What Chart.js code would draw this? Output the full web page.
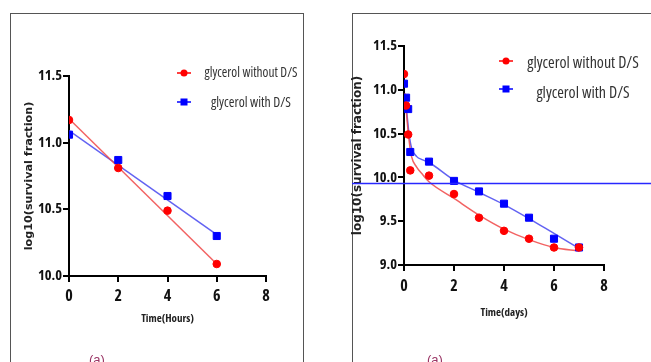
<!DOCTYPE html>
<html>
<head>
<meta charset="utf-8">
<script src="https://cdn.jsdelivr.net/npm/chart.js@4.4.1/dist/chart.umd.min.js"></script>
<style>
  body { margin: 0; background: #fff; width: 651px; height: 362px; overflow: hidden; position: relative; font-family: "Liberation Sans", sans-serif; }
  .panel { position: absolute; border: 1px solid #555; top: 13px; height: 400px; }
  #panelA { left: 10px; width: 292px; }
  #panelB { left: 352px; width: 400px; }
  canvas { position: absolute; top: 0; }
  #chartA { left: 0; }
  #chartB { left: 325px; }
  .tag { position: absolute; top: 352px; font-size: 13px; color: #9a3565; }
</style>
</head>
<body>
<div class="panel" id="panelA"></div>
<div class="panel" id="panelB"></div>
<canvas id="chartA" width="325" height="362"></canvas>
<canvas id="chartB" width="326" height="362"></canvas>
<div class="tag" style="left:89px">(a)</div>
<div class="tag" style="left:427px">(a)</div>
<script>
// panel 1: hours
const hoursX = [0, 2, 4, 6];
const hoursWithout = [11.17, 10.81, 10.49, 10.09];
const hoursWith = [11.06, 10.87, 10.60, 10.30];
const hoursFitX = [0, 6];
const hoursFitWithout = [11.18, 10.09];
const hoursFitWith = [11.09, 10.31];

// panel 2: days
const daysX = [0, 0.083, 0.167, 0.25, 1, 2, 3, 4, 5, 6, 7];
const daysWithout = [11.18, 10.82, 10.49, 10.08, 10.02, 9.81, 9.54, 9.39, 9.30, 9.20, 9.20];
const daysWith = [11.07, 10.91, 10.78, 10.29, 10.18, 9.96, 9.84, 9.70, 9.54, 9.30, 9.20];
const daysFitX = [0.04, 0.1, 0.2, 0.3, 0.5, 0.75, 1, 2, 3, 4, 5, 6, 7];
const daysFitWithout = [10.96, 10.73, 10.43, 10.24, 10.12, 10.03, 9.95, 9.76, 9.57, 9.41, 9.29, 9.20, 9.16];
const daysFitWith = [10.92, 10.77, 10.50, 10.34, 10.24, 10.20, 10.17, 9.97, 9.83, 9.69, 9.53, 9.36, 9.19];
const refLineValue = 9.93;

const labelWithout = "glycerol without D/S";
const labelWith = "glycerol with D/S";
const yTitle = "log10(survival fraction)";

const RED = "#ff0000", BLUE = "#0000ff";
const RED_LINE = "rgba(240,70,70,0.85)", BLUE_LINE = "rgba(70,70,240,0.85)";

// find the narrowest sans face installed (the original uses a condensed font)
function pickNarrow() {
    const c = document.createElement("canvas").getContext("2d");
    const sample = "glycerol without D/S 10.5";
    c.font = "bold 13px 'Liberation Sans'";
    const base = c.measureText(sample).width;
    const cands = [
        { pre: "", family: "'Liberation Sans Narrow', monospace" },
        { pre: "condensed ", family: "'Noto Sans', monospace" },
        { pre: "condensed ", family: "'DejaVu Sans', monospace" },
        { pre: "condensed ", family: "'Open Sans', monospace" },
        { pre: "", family: "'Liberation Sans', sans-serif" }
    ];
    let best = cands[cands.length - 1], bestW = base;
    cands.forEach((f) => {
        c.font = f.pre + "bold 13px " + f.family;
        const w = c.measureText(sample).width;
        if (w < bestW - 0.5) { best = f; bestW = w; }
    });
    best.ratio = bestW / base;
    return best;
}
const NARROW = pickNarrow();
const isNarrow = NARROW.ratio < 0.9;
const tickSizeX = isNarrow ? 16 : 13;
const tickSizeY = isNarrow ? 14.5 : 12;

// legend drawn inside the plot, top right; text squeezed to the width it has in the original
const innerLegend = {
    id: "innerLegend",
    afterDraw(chart, args, opts) {
        const ctx = chart.ctx;
        ctx.save();
        opts.items.forEach((it, i) => {
            const y = opts.y[i];
            ctx.strokeStyle = it.color;
            ctx.lineWidth = 1.5;
            ctx.beginPath();
            ctx.moveTo(opts.markX - 7, y);
            ctx.lineTo(opts.markX + 7, y);
            ctx.stroke();
            ctx.fillStyle = it.color;
            if (it.shape === "circle") {
                ctx.beginPath();
                ctx.arc(opts.markX, y, 3.5, 0, Math.PI * 2);
                ctx.fill();
            } else {
                ctx.fillRect(opts.markX - 3.5, y - 3.5, 7, 7);
            }
            ctx.fillStyle = "#333";
            ctx.font = NARROW.pre + opts.fontSize + "px " + NARROW.family;
            const w = ctx.measureText(it.label).width;
            const sx = Math.min(1, opts.widths[i] / w);
            ctx.save();
            ctx.translate(opts.textX, opts.textY[i]);
            ctx.scale(sx, 1);
            ctx.textAlign = "center";
            ctx.textBaseline = "middle";
            ctx.fillText(it.label, 0, 0);
            ctx.restore();
        });
        ctx.restore();
    }
};

// horizontal reference line across the whole panel
const refLine = {
    id: "refLine",
    afterDraw(chart, args, opts) {
        if (!opts.show) return;
        const y = chart.scales.y.getPixelForValue(refLineValue);
        const ctx = chart.ctx;
        ctx.save();
        ctx.strokeStyle = "#2828ff";
        ctx.lineWidth = 1.5;
        ctx.beginPath();
        ctx.moveTo(opts.fromX, y);
        ctx.lineTo(chart.width, y);
        ctx.stroke();
        ctx.restore();
    }
};

function axisStyle(size) {
    return {
        grid: { display: true, drawOnChartArea: false, drawTicks: true, tickLength: 6, color: "#000", lineWidth: 2 },
        border: { display: true, color: "#000", width: 2 },
        ticks: { color: "#111", font: { family: NARROW.family, size: size, weight: NARROW.pre + "bold" } }
    };
}

function makeChart(id, cfg) {
    const xAxis = axisStyle(tickSizeX);
    const yAxis = axisStyle(tickSizeY);
    return new Chart(document.getElementById(id), {
        type: "scatter",
        data: {
            datasets: [
                { label: labelWithout, data: pts(cfg.x, cfg.without), pointStyle: "circle", pointRadius: 3.8, backgroundColor: RED, borderColor: RED, order: 0 },
                { label: labelWith, data: pts(cfg.x, cfg.with), pointStyle: "rect", pointRadius: 5, backgroundColor: BLUE, borderColor: BLUE, order: 0 },
                { data: pts(cfg.fitX, cfg.fitWithout), showLine: true, pointRadius: 0, borderColor: RED_LINE, borderWidth: 1.5, cubicInterpolationMode: "monotone", order: 1 },
                { data: pts(cfg.fitX, cfg.fitWith), showLine: true, pointRadius: 0, borderColor: BLUE_LINE, borderWidth: 1.5, cubicInterpolationMode: "monotone", order: 1 }
            ]
        },
        options: {
            responsive: false,
            animation: false,
            devicePixelRatio: 1,
            layout: { padding: cfg.padding },
            plugins: {
                legend: { display: false },
                tooltip: { enabled: false },
                innerLegend: cfg.legend,
                refLine: cfg.refLine
            },
            scales: {
                x: {
                    ...xAxis,
                    min: 0, max: 8,
                    ticks: { ...xAxis.ticks, stepSize: 2, padding: cfg.xTickPad },
                    title: { display: true, text: cfg.xTitle, color: "#222", padding: { top: 0, bottom: 1 }, font: { family: NARROW.family, size: isNarrow ? 11 : 10, weight: NARROW.pre + "bold" } },
                    afterFit: (s) => { s.height = cfg.xHeight; }
                },
                y: {
                    ...yAxis,
                    min: cfg.yMin, max: cfg.yMax,
                    ticks: { ...yAxis.ticks, stepSize: 0.5, padding: 1, callback: (v) => v.toFixed(1) },
                    title: { display: true, text: yTitle, color: "#222", padding: { top: cfg.yTitlePad, bottom: 0 }, font: { family: "'DejaVu Sans', sans-serif", size: cfg.yTitleSize, weight: "bold" } },
                    afterFit: (s) => { s.width = cfg.yWidth; }
                }
            }
        },
        plugins: [innerLegend, refLine]
    });
}

function pts(xs, ys) {
    return xs.map((x, i) => ({ x: x, y: ys[i] }));
}

makeChart("chartA", {
    x: hoursX, without: hoursWithout, with: hoursWith,
    fitX: hoursFitX, fitWithout: hoursFitWithout, fitWith: hoursFitWith,
    yMin: 10, yMax: 11.5,
    xTitle: "Time(Hours)",
    padding: { left: 15, right: 59, top: 76, bottom: 36 },
    yWidth: 54, xHeight: 50, xTickPad: 5, yTitlePad: 7, yTitleSize: 11.2,
    legend: {
        items: [{ color: RED, shape: "circle", label: labelWithout }, { color: BLUE, shape: "rect", label: labelWith }],
        markX: 184, y: [73, 102], textX: 251, textY: [73, 103], fontSize: 14, widths: [93, 80]
    },
    refLine: { show: false }
});

makeChart("chartB", {
    x: daysX, without: daysWithout, with: daysWith,
    fitX: daysFitX, fitWithout: daysFitWithout, fitWith: daysFitWith,
    yMin: 9, yMax: 11.5,
    xTitle: "Time(days)",
    padding: { left: 15, right: 47, top: 46, bottom: 42 },
    yWidth: 64, xHeight: 55, xTickPad: 6, yTitlePad: 11, yTitleSize: 12,
    legend: {
        items: [{ color: RED, shape: "circle", label: labelWithout }, { color: BLUE, shape: "rect", label: labelWith }],
        markX: 181, y: [61, 89], textX: 258, textY: [63, 93], fontSize: 16, widths: [113, 96]
    },
    refLine: { show: true, fromX: 27 }
});
</script>
</body>
</html>
